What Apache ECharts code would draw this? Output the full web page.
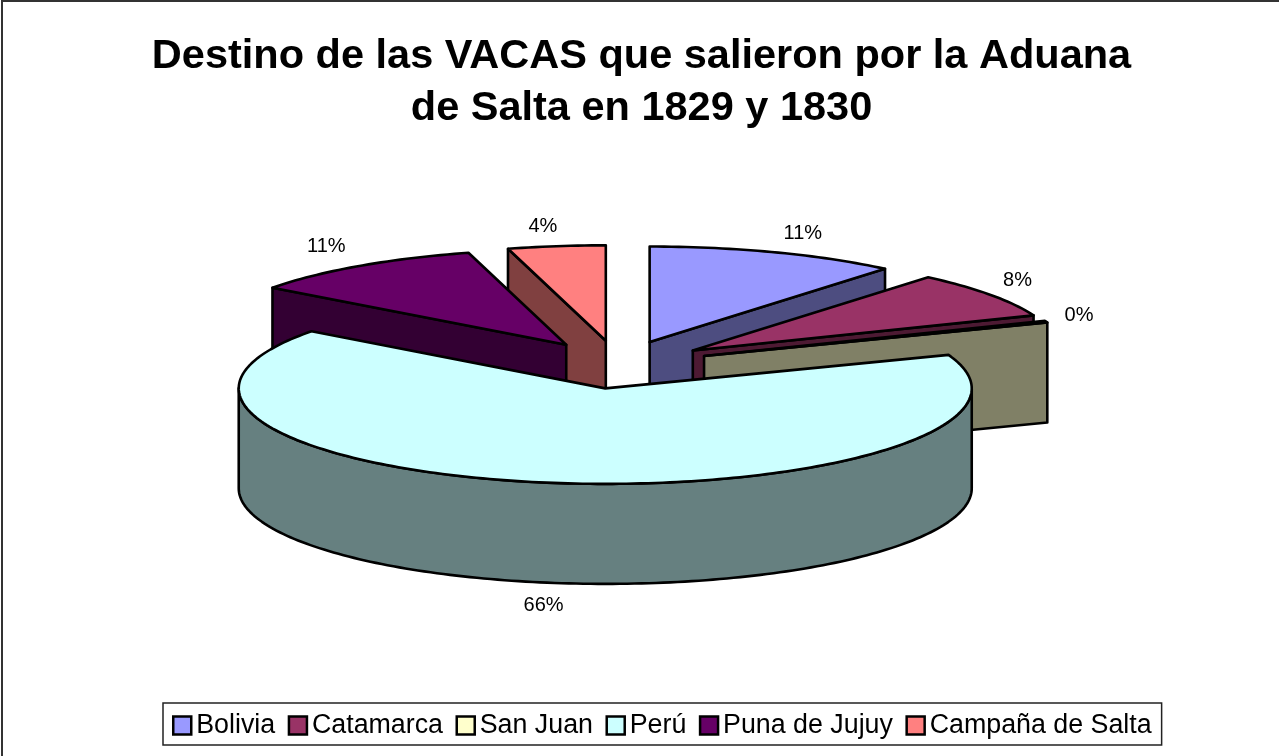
<!DOCTYPE html>
<html>
<head>
<meta charset="utf-8">
<title>Destino de las VACAS</title>
<script src="https://cdn.jsdelivr.net/npm/echarts@6/dist/echarts.min.js"></script>
<style>
html, body { margin: 0; padding: 0; background: #fff; }
#main { width: 1279px; height: 756px; }
</style>
</head>
<body>
<div id="main"></div>
<script>
const categories = ['Bolivia', 'Catamarca', 'San Juan', 'Perú', 'Puna de Jujuy', 'Campaña de Salta'];
const values = [11.1, 7.9, 0.3, 65.9, 10.5, 4.3];
const topColors = ['#9999ff', '#993366', '#ffffcc', '#ccffff', '#660066', '#ff8080'];
const sideColors = ['#4d4d80', '#4d1a33', '#808066', '#668080', '#330033', '#804040'];
// back slices first, Perú on top of everything
const drawOrder = [5, 4, 0, 1, 2, 3];
// label shift from the rim point at the middle of the slice
const labelShift = [[28, -19], [27.5, -14], [33, -6], [-10, 23], [-33, -19], [-13.5, -20]];

// pie layout
const cx = 618.2, cy = 364.6;
const rx = 366.5, ry = 95.5, depth = 100;
const explodeX = 92, explodeY = 24;

const total = values.reduce((a, b) => a + b, 0);
let acc = 0;
const slices = values.map(v => {
    const start = acc / total * Math.PI * 2;
    acc += v;
    return { start: start, end: acc / total * Math.PI * 2 };
});

function rimPoint(ox, oy, a, drop) {
    return [ox + Math.sin(a) * rx, oy - Math.cos(a) * ry + (drop || 0)];
}

function arc(ox, oy, from, to, drop) {
    let pts = [];
    const n = Math.max(2, Math.ceil((to - from) / 0.02));
    for (let i = 0; i <= n; i++) {
        pts.push(rimPoint(ox, oy, from + (to - from) * i / n, drop));
    }
    return pts;
}

function renderSlice(idx) {
    return function (params, api) {
        const s = slices[idx];
        const mid = (s.start + s.end) / 2;
        const ox = cx + Math.sin(mid) * explodeX;
        const oy = cy - Math.cos(mid) * explodeY;
        const line = { stroke: '#000', lineWidth: 2.6, lineJoin: 'round' };
        let children = [];

        function wall(a) {
            const p = rimPoint(ox, oy, a);
            children.push({
                type: 'polygon',
                shape: { points: [[ox, oy], p, [p[0], p[1] + depth], [ox, oy + depth]] },
                style: Object.assign({ fill: sideColors[idx] }, line)
            });
        }
        // only the edge walls turned to the viewer
        if (s.start > Math.PI) wall(s.start);
        if (s.end < Math.PI) wall(s.end);

        // rim wall on the front half
        const from = Math.max(s.start, Math.PI / 2);
        const to = Math.min(s.end, Math.PI * 1.5);
        if (to > from) {
            children.push({
                type: 'polygon',
                shape: { points: arc(ox, oy, from, to, 0).concat(arc(ox, oy, from, to, depth).reverse()) },
                style: Object.assign({ fill: sideColors[idx] }, line)
            });
        }

        // top face
        children.push({
            type: 'polygon',
            shape: { points: [[ox, oy]].concat(arc(ox, oy, s.start, s.end, 0)) },
            style: Object.assign({ fill: topColors[idx] }, line)
        });

        // percent label
        const front = mid > Math.PI / 2 && mid < Math.PI * 1.5;
        const r = rimPoint(ox, oy, mid, front ? depth : 0);
        children.push({
            type: 'text',
            style: {
                text: Math.round(api.value(0) / total * 100) + '%',
                x: r[0] + labelShift[idx][0],
                y: r[1] + labelShift[idx][1],
                align: 'center',
                verticalAlign: 'middle',
                font: '20px "Liberation Sans", Arial, sans-serif',
                fill: '#000'
            }
        });
        return { type: 'group', children: children };
    };
}

const chart = echarts.init(document.getElementById('main'));
chart.setOption({
    backgroundColor: '#fff',
    animation: false,
    title: {
        text: 'Destino de las VACAS que salieron por la Aduana\nde Salta en 1829 y 1830',
        left: 636.5,
        top: 26,
        textAlign: 'center',
        textStyle: {
            fontFamily: '"Liberation Sans", Arial, sans-serif',
            fontSize: 41.5,
            fontWeight: 'bold',
            lineHeight: 52,
            color: '#000'
        }
    },
    legend: {
        data: categories,
        left: 163,
        top: 703,
        orient: 'horizontal',
        padding: [9, 10, 6, 9],
        itemGap: 12.5,
        itemWidth: 18,
        itemHeight: 18,
        borderColor: '#222',
        borderWidth: 1.5,
        selectedMode: false,
        icon: 'rect',
        itemStyle: { borderColor: '#000', borderWidth: 2.5 },
        textStyle: {
            fontFamily: '"Liberation Sans", Arial, sans-serif',
            fontSize: 26.8,
            color: '#000'
        }
    },
    graphic: [{
        type: 'polyline',
        silent: true,
        shape: { points: [[2, 756], [2, 1], [1279, 1]] },
        style: { fill: 'none', stroke: '#333', lineWidth: 2 }
    }],
    series: drawOrder.map(i => ({
        type: 'custom',
        name: categories[i],
        coordinateSystem: 'none',
        silent: true,
        itemStyle: { color: topColors[i] },
        renderItem: renderSlice(i),
        data: [[values[i]]]
    }))
});
window.addEventListener('resize', function () {
    chart.resize();
});
</script>
</body>
</html>
